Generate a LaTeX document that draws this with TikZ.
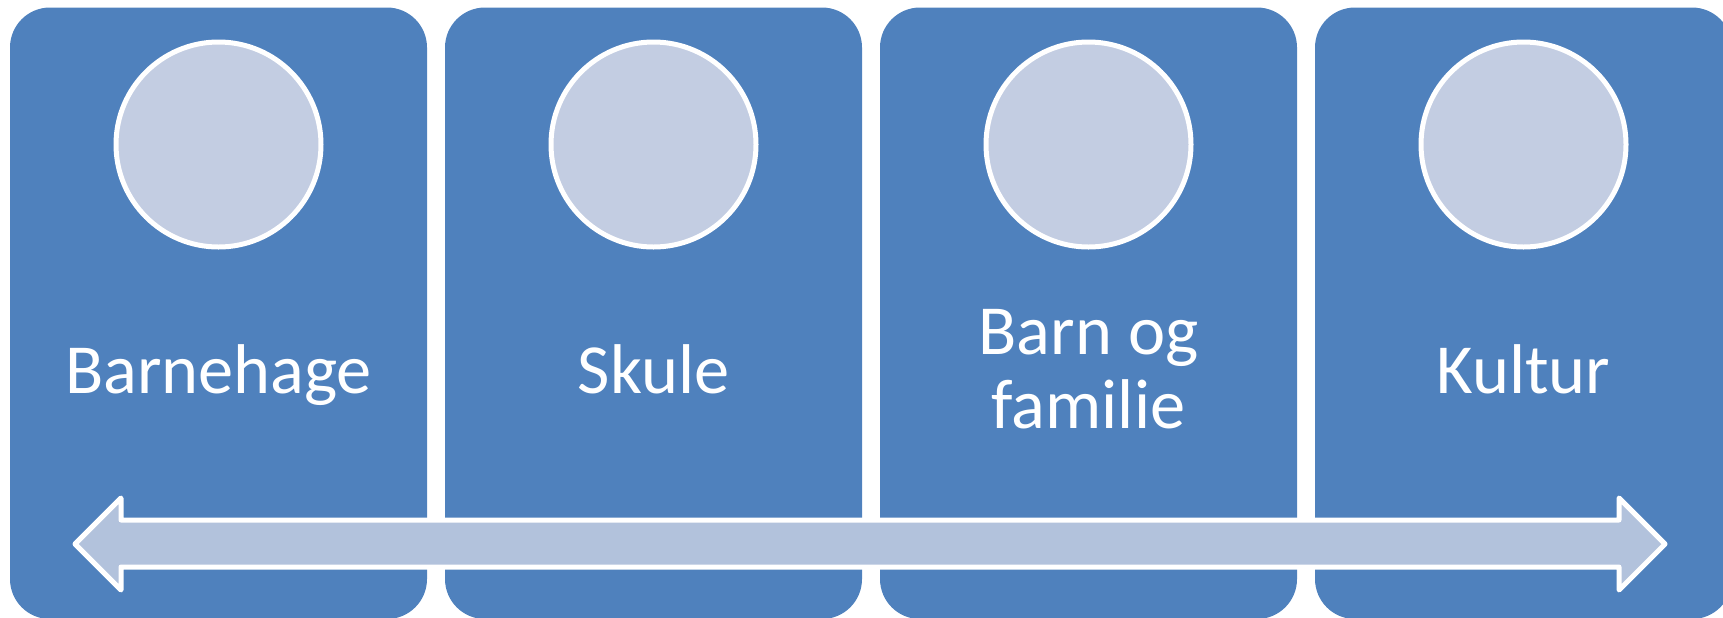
\documentclass[tikz,border=0pt]{standalone}
\usepackage{fontspec}
\setmainfont{Carlito}
\usetikzlibrary{positioning}
\definecolor{cblue}{HTML}{4F81BD}
\definecolor{ccirc}{HTML}{C3CDE2}
\definecolor{carrow}{HTML}{B2C2DC}
\tikzset{
  every picture/.style={line width=2.5pt},
  panel/.style={fill=cblue, rounded corners=20pt, inner sep=0pt, minimum width=208.5pt, minimum height=305.75pt},
  disc/.style={circle, draw=white, fill=ccirc, inner sep=0pt, minimum size=102.5pt},
  label/.style={text=white, font=\fontsize{35.2}{37}\selectfont, align=center, anchor=base},
  band/.style={draw=white, fill=carrow, line join=round},
}

\begin{document}
\begin{tikzpicture}[x=0.5pt, y=-0.5pt]
  % units: one step = one pixel of the 1723 x 617 picture
  \useasboundingbox (0,0) rectangle (1723,617);
  \foreach \i/\cx/\txt in {1/218.5/Barnehage, 2/653.5/Skule, 4/1523.5/Kultur} {
    \node[panel] (box\i) at (\cx,313.25) {};
    \node[disc] (circ\i) at (\cx,144.5) {};
    \node[label] (lbl\i) at (\cx,393) {\txt};
  }
  % two lines: base sits on the last one
  \node[panel] (box3) at (1088.5,313.25) {};
  \node[disc] (circ3) at (1088.5,144.5) {};
  \node[label] (lbl3) at (1088.5,428) {Barn og\\familie};
  \draw[band] (75,544) -- (121,498) -- (121,520) -- (1619,520) -- (1619,498) -- (1665,544)
    -- (1619,590) -- (1619,567) -- (121,567) -- (121,590) -- cycle;
\end{tikzpicture}
\end{document}
